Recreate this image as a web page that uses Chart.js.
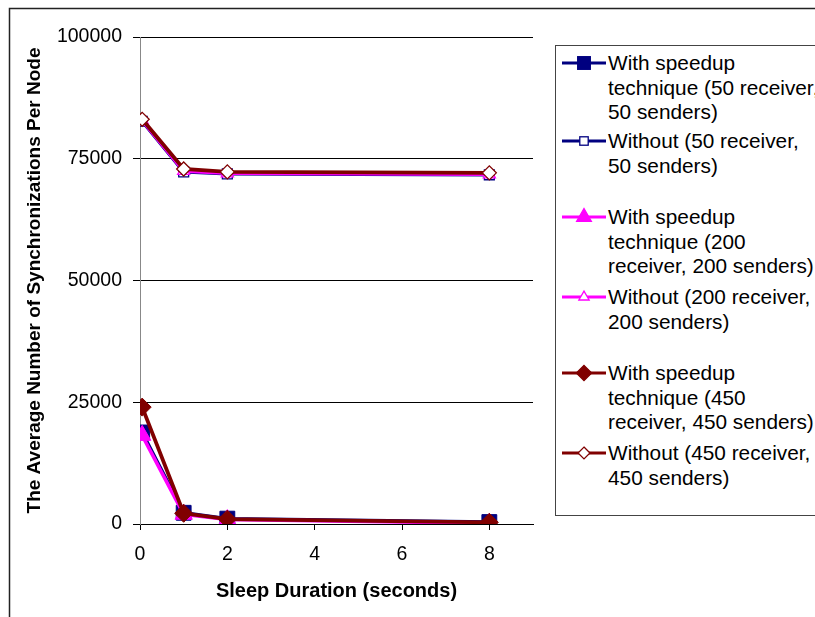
<!DOCTYPE html>
<html>
<head>
<meta charset="utf-8">
<script src="https://cdn.jsdelivr.net/npm/chart.js"></script>
<style>
  html, body { margin: 0; padding: 0; background: #fff; overflow: hidden; }
  body { width: 815px; height: 617px; position: relative; font-family: "Liberation Sans", Arial, sans-serif; }
  #chart { position: absolute; left: 0; top: 0; }
  #legend { position: absolute; left: 555px; top: 45px; width: 280px; height: 469px; border-left: 1px solid #444; border-top: 1px solid #444; border-bottom: 1px solid #444; background: #fff; }
  .entry { position: absolute; left: 0; font-size: 20.8px; line-height: 24.6px; color: #000; }
  .entry svg { position: absolute; left: 6px; top: 2px; }
  .entry .txt { position: absolute; left: 52px; top: 0; white-space: nowrap; }
</style>
</head>
<body>
<canvas id="chart" width="815" height="617"></canvas>
<div id="legend"></div>
<script>
// sleep duration in seconds (x)
const sleep = [0.05, 1, 2, 8];
const xTicks = [0, 2, 4, 6, 8];
const yTicks = [0, 25000, 50000, 75000, 100000];

const with50 = [18800, 2300, 1100, 400];
const without50 = [82700, 72300, 71900, 71700];
const with200 = [18200, 2000, 900, 150];
const without200 = [82900, 72500, 72000, 71800];
const with450 = [24000, 2200, 1000, 350];
const without450 = [83100, 72900, 72300, 72100];

const labels = [
  'With speedup\ntechnique (50 receiver,\n50 senders)',
  'Without (50 receiver,\n50 senders)',
  'With speedup\ntechnique (200\nreceiver, 200 senders)',
  'Without (200 receiver,\n200 senders)',
  'With speedup\ntechnique (450\nreceiver, 450 senders)',
  'Without (450 receiver,\n450 senders)'
];

const NAVY = '#000080', MAGENTA = '#ff00ff', MAROON = '#800000';

function pts(ys) {
  return sleep.map((x, i) => ({ x: x, y: ys[i] }));
}

function series(label, ys, color, style, radius, open, order, lw) {
  return {
    label: label,
    data: pts(ys),
    borderColor: color,
    borderWidth: lw,
    pointStyle: style,
    pointRadius: radius,
    pointHoverRadius: radius,
    pointBackgroundColor: open ? '#fff' : color,
    pointBorderColor: color,
    pointBorderWidth: open ? 1.3 : 1,
    order: order,
    tension: 0
  };
}

const datasets = [
  series(labels[0], with50, NAVY, 'rect', 10.5, false, 5, 3.5),
  series(labels[1], without50, NAVY, 'rect', 7, true, 4, 3.5),
  series(labels[2], with200, MAGENTA, 'triangle', 10, false, 3, 3.5),
  series(labels[3], without200, MAGENTA, 'triangle', 7, true, 2, 3.5),
  series(labels[4], with450, MAROON, 'rectRot', 9, false, 1, 3.8),
  series(labels[5], without450, MAROON, 'rectRot', 7, true, 0, 3.8)
];

// outer chart frame: only left and top edges are inside the window
const framePlugin = {
  id: 'frame',
  beforeDraw(chart) {
    const ctx = chart.ctx;
    ctx.save();
    ctx.strokeStyle = '#222';
    ctx.lineWidth = 1.5;
    ctx.beginPath();
    ctx.moveTo(9.5, chart.height);
    ctx.lineTo(9.5, 8.5);
    ctx.lineTo(chart.width, 8.5);
    ctx.stroke();
    ctx.restore();
  }
};

new Chart(document.getElementById('chart').getContext('2d'), {
  type: 'line',
  data: { datasets: datasets },
  plugins: [framePlugin],
  options: {
    responsive: false,
    animation: false,
    devicePixelRatio: 1,
    layout: { padding: { left: 9, top: 37, right: 282, bottom: 0 } },
    plugins: { legend: { display: false }, tooltip: { enabled: false } },
    scales: {
      x: {
        type: 'linear',
        min: 0,
        max: 9,
        afterBuildTicks: s => { s.ticks = xTicks.map(v => ({ value: v })); },
        afterFit: s => { s.height = 93; },
        grid: { drawOnChartArea: false, drawTicks: true, tickLength: 6, color: '#000' },
        border: { display: true, color: '#000', width: 1 },
        ticks: { color: '#000', padding: 13, maxRotation: 0, font: { family: 'Liberation Sans', size: 19.5 } },
        title: {
          display: true,
          text: 'Sleep Duration (seconds)',
          color: '#000',
          padding: { top: 0, bottom: 14 },
          font: { family: 'Liberation Sans', size: 20, weight: 'bold' }
        }
      },
      y: {
        type: 'linear',
        min: 0,
        max: 100000,
        afterBuildTicks: s => { s.ticks = yTicks.map(v => ({ value: v })); },
        afterFit: s => { s.width = 131; },
        grid: { color: '#000', lineWidth: 1, drawTicks: true, tickLength: 7 },
        border: { display: true, color: '#888', width: 1 },
        ticks: { color: '#000', padding: 11, callback: v => String(v), font: { family: 'Liberation Sans', size: 19.5 } },
        title: {
          display: true,
          text: 'The Average Number of Synchronizations Per Node',
          color: '#000',
          padding: { top: 14, bottom: 0 },
          font: { family: 'Liberation Sans', size: 19, weight: 'bold' }
        }
      }
    }
  }
});

// legend drawn as html, first-line top of each entry (relative to legend box)
const entryTops = [5, 83, 159, 239, 315, 395];

function markerSvg(ds) {
  const c = ds.borderColor;
  const fill = ds.pointBackgroundColor;
  const cx = 22, cy = 10;
  const r = ds.pointRadius * 0.85;
  let shape = '';
  if (ds.pointStyle === 'rect') {
    const h = r * Math.SQRT1_2;
    shape = '<rect x="' + (cx - h) + '" y="' + (cy - h) + '" width="' + 2 * h + '" height="' + 2 * h + '" fill="' + fill + '" stroke="' + c + '" stroke-width="1.3"/>';
  } else if (ds.pointStyle === 'triangle') {
    const p = [[cx, cy - r], [cx + r * 0.866, cy + r * 0.5], [cx - r * 0.866, cy + r * 0.5]];
    shape = '<polygon points="' + p.map(q => q.join(',')).join(' ') + '" fill="' + fill + '" stroke="' + c + '" stroke-width="1.3"/>';
  } else {
    const p = [[cx, cy - r], [cx + r, cy], [cx, cy + r], [cx - r, cy]];
    shape = '<polygon points="' + p.map(q => q.join(',')).join(' ') + '" fill="' + fill + '" stroke="' + c + '" stroke-width="1.3"/>';
  }
  return '<svg width="44" height="20"><line x1="0" y1="' + cy + '" x2="44" y2="' + cy + '" stroke="' + c + '" stroke-width="3"/>' + shape + '</svg>';
}

const legend = document.getElementById('legend');
datasets.forEach((ds, i) => {
  const div = document.createElement('div');
  div.className = 'entry';
  div.style.top = entryTops[i] + 'px';
  const txt = document.createElement('div');
  txt.className = 'txt';
  txt.innerHTML = ds.label.split('\n').join('<br>');
  div.innerHTML = markerSvg(ds);
  div.appendChild(txt);
  legend.appendChild(div);
});
</script>
</body>
</html>
